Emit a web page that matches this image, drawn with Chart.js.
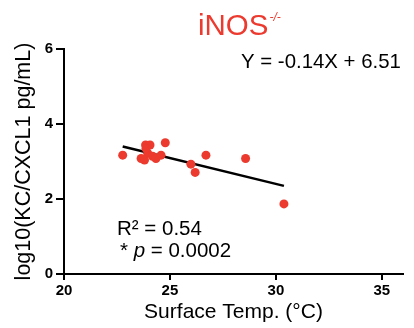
<!DOCTYPE html>
<html><head><meta charset="utf-8">
<script src="https://cdn.jsdelivr.net/npm/chart.js@4"></script>
<style>html,body{margin:0;padding:0;background:#fff}#wrap{width:414px;height:328px;position:relative}</style>
</head><body><div id="wrap"><canvas id="c" width="414" height="328"></canvas></div>
<script>
const tempX = [22.77, 23.85, 24.06, 24.78, 23.64, 23.80, 23.95, 24.18, 24.34, 24.58, 23.87, 26.70, 25.99, 26.19, 28.57, 30.38];
const logKC = [3.17, 3.44, 3.44, 3.50, 3.08, 3.04, 3.22, 3.14, 3.08, 3.17, 3.35, 3.17, 2.93, 2.71, 3.08, 1.87];
const fitX = [22.77, 30.38];
const fitY = [3.40, 2.35];
const xTicks = [20, 25, 30, 35];
const yTicks = [0, 2, 4, 6];
const titleMain = 'iNOS';
const titleSup = '-/-';
const eqText = 'Y = -0.14X + 6.51';
const r2Text = 'R\u00B2 = 0.54';
const pText = ['* ', 'p', ' = 0.0002'];

const FONT = '"Liberation Sans", Arial, sans-serif';
const RED = '#ec3a2e';

const annot = {
  id: 'annot',
  afterDraw(chart) {
    const ctx = chart.ctx;
    ctx.save();
    ctx.fillStyle = RED;
    ctx.textBaseline = 'alphabetic';
    ctx.textAlign = 'left';
    ctx.font = '29.5px ' + FONT;
    const w = ctx.measureText(titleMain).width;
    const tx = 198;
    ctx.fillText(titleMain, tx, 35);
    ctx.font = 'italic 12px ' + FONT;
    ctx.fillText(titleSup, tx + w + 1, 21);
    ctx.fillStyle = '#000';
    ctx.font = '20.4px ' + FONT;
    ctx.fillText(eqText, 241, 68);
    ctx.font = '20.5px ' + FONT;
    ctx.fillText(r2Text, 117, 235);
    let x = 120;
    ctx.fillText(pText[0], x, 257); x += ctx.measureText(pText[0]).width;
    ctx.font = 'italic 20.5px ' + FONT;
    ctx.fillText(pText[1], x, 257); x += ctx.measureText(pText[1]).width;
    ctx.font = '20.5px ' + FONT;
    ctx.fillText(pText[2], x, 257);
    ctx.restore();
  }
};

new Chart(document.getElementById('c'), {
  type: 'scatter',
  data: {
    datasets: [
      {
        data: tempX.map((v, i) => ({x: v, y: logKC[i]})),
        backgroundColor: RED, borderColor: RED, pointRadius: 4.5, pointHoverRadius: 4.5, borderWidth: 0, order: 1
      },
      {
        type: 'line',
        data: fitX.map((v, i) => ({x: v, y: fitY[i]})),
        borderColor: '#000', borderWidth: 2.5, pointRadius: 0, fill: false, order: 2
      }
    ]
  },
  plugins: [annot],
  options: {
    responsive: false, animation: false,
    layout: {padding: {left: 0, right: 11, top: 49, bottom: 0}},
    plugins: {legend: {display: false}, tooltip: {enabled: false}},
    scales: {
      x: {
        type: 'linear', min: 20, max: 36,
        afterBuildTicks: s => { s.ticks = xTicks.map(v => ({value: v})); },
        afterFit: s => { s.height = 54; },
        border: {color: '#000', width: 2},
        grid: {drawOnChartArea: false, drawTicks: true, tickLength: 6, color: '#000', lineWidth: 2},
        ticks: {color: '#000', font: {family: FONT, size: 15, weight: 'bold'}, padding: 2, maxRotation: 0},
        title: {display: true, text: 'Surface Temp. (\u00B0C)', color: '#000', font: {family: FONT, size: 21}, padding: {top: 0, bottom: 3}}
      },
      y: {
        min: 0, max: 6,
        afterBuildTicks: s => { s.ticks = yTicks.map(v => ({value: v})); },
        afterFit: s => { s.width = 64; },
        border: {color: '#000', width: 2},
        grid: {drawOnChartArea: false, drawTicks: true, tickLength: 8, color: '#000', lineWidth: 2},
        ticks: {color: '#000', font: {family: FONT, size: 15, weight: 'bold'}, padding: 3},
        title: {display: true, text: 'log10(KC/CXCL1 pg/mL)', color: '#000', font: {family: FONT, size: 21.5}, padding: {top: 11, bottom: 0}}
      }
    }
  }
});
</script></body></html>
